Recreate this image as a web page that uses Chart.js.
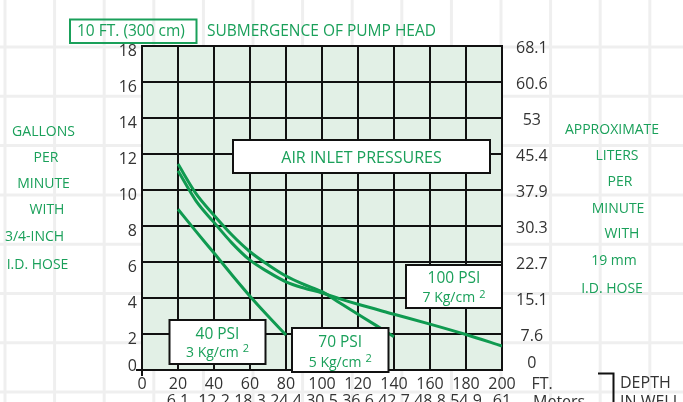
<!DOCTYPE html>
<html><head><meta charset="utf-8">
<script src="https://cdn.jsdelivr.net/npm/chart.js@4/dist/chart.umd.min.js"></script>
<style>html,body{margin:0;padding:0;background:#fff;overflow:hidden}canvas{display:block}</style>
</head><body>
<canvas id="c" width="683" height="402"></canvas>
<script>
// ---- data ----
const depthFtTicks = [0, 20, 40, 60, 80, 100, 120, 140, 160, 180, 200];
const depthMeterTicks = ['', '6.1', '12.2', '18.3', '24.4', '30.5', '36.6', '42.7', '48.8', '54.9', '61'];
const gpmTicks = [0, 2, 4, 6, 8, 10, 12, 14, 16, 18];
const lpmTicks = ['0', '7.6', '15.1', '22.7', '30.3', '37.9', '45.4', '53', '60.6', '68.1'];

const depth40 = [20, 30, 40, 50, 60, 70, 80];
const gpm40   = [8.93, 7.7, 6.5, 5.28, 4.1, 3.0, 1.94];
const depth70 = [20, 30, 40, 50, 60, 70, 80, 90, 100, 110, 120, 130, 140];
const gpm70   = [11.44, 9.8, 8.6, 7.5, 6.57, 5.85, 5.22, 4.75, 4.35, 3.72, 3.1, 2.48, 1.85];
const depth100 = [20, 30, 40, 50, 60, 70, 80, 90, 100, 110, 120, 140, 160, 180, 200];
const gpm100   = [11.07, 9.4, 8.2, 7.05, 6.1, 5.45, 4.9, 4.55, 4.28, 3.95, 3.65, 3.1, 2.55, 1.97, 1.33];

const seriesNames = ['40 PSI', '70 PSI', '100 PSI'];
const seriesSub = ['3 Kg/cm', '5 Kg/cm', '7 Kg/cm'];
const leftTitle = ['GALLONS', 'PER', 'MINUTE', 'WITH', '3/4-INCH', 'I.D. HOSE'];
const rightTitle = ['APPROXIMATE', 'LITERS', 'PER', 'MINUTE', 'WITH', '19 mm', 'I.D. HOSE'];
const headerBox = '10 FT. (300 cm)';
const headerText = 'SUBMERGENCE OF PUMP HEAD';
const centerBox = 'AIR INLET PRESSURES';

// ---- styles ----
const FF = "'Open Sans', 'Noto Sans', sans-serif";
const GREEN_LINE = '#0f9a50';
const GREEN_TEXT = '#1aa05a';
const INK = '#111';
const TICK_TXT = '#333';
Chart.defaults.font.family = FF;

const pts = (xs, ys) => xs.map((x, i) => ({x, y: ys[i]}));

function txt(ctx, s, x, y, size, color, align) {
  ctx.font = size + 'px ' + FF;
  ctx.fillStyle = color;
  ctx.textAlign = align || 'center';
  ctx.textBaseline = 'middle';
  ctx.fillText(s, x, y + 1);
}
function rect(ctx, x, y, w, h, stroke, lw, fill) {
  if (fill) { ctx.fillStyle = fill; ctx.fillRect(x, y, w, h); }
  ctx.strokeStyle = stroke; ctx.lineWidth = lw;
  ctx.strokeRect(x, y, w, h);
}
function psiBox(ctx, x, y, w, h, name, sub, nameY, subY) {
  rect(ctx, x, y, w, h, INK, 2, '#fff');
  const cx = x + w / 2;
  txt(ctx, name, cx, nameY, 15.5, GREEN_TEXT);
  ctx.font = '14px ' + FF;
  const w1 = ctx.measureText(sub).width;
  ctx.font = '11px ' + FF;
  const w2 = ctx.measureText('2').width;
  const total = w1 + 4 + w2;
  const sx = cx - total / 2;
  txt(ctx, sub, sx, subY, 14, GREEN_TEXT, 'left');
  txt(ctx, '2', sx + w1 + 4, subY - 4, 11, GREEN_TEXT, 'left');
}

const bgPlugin = {
  id: 'bg',
  beforeDraw(chart) {
    const {ctx, chartArea: a} = chart;
    ctx.save();
    ctx.fillStyle = '#fff';
    ctx.fillRect(0, 0, chart.width, chart.height);
    ctx.strokeStyle = '#efefef';
    ctx.lineWidth = 3;
    for (let x = 5; x < chart.width; x += 49.6) {
      ctx.beginPath(); ctx.moveTo(x, 0); ctx.lineTo(x, chart.height); ctx.stroke();
    }
    for (let y = 47 - 49.3; y < chart.height; y += 49.3) {
      ctx.beginPath(); ctx.moveTo(0, y); ctx.lineTo(chart.width, y); ctx.stroke();
    }
    ctx.fillStyle = '#e2f0e6';
    ctx.fillRect(a.left, a.top, a.right - a.left, a.bottom - a.top);
    ctx.restore();
  }
};

const overlayPlugin = {
  id: 'overlay',
  afterDraw(chart) {
    const ctx = chart.ctx;
    ctx.save();
    // header
    rect(ctx, 70, 19.5, 126.5, 23.5, GREEN_TEXT, 2);
    txt(ctx, headerBox, 77, 31, 15.5, GREEN_TEXT, 'left');
    txt(ctx, headerText, 207, 31, 15.5, GREEN_TEXT, 'left');
    // air inlet box
    rect(ctx, 233, 140, 257, 33, INK, 2, '#fff');
    txt(ctx, centerBox, 361.5, 157, 16, GREEN_TEXT);
    // psi boxes
    psiBox(ctx, 169.5, 320, 96, 44, seriesNames[0], seriesSub[0], 333.5, 352);
    psiBox(ctx, 292, 328, 96.5, 44, seriesNames[1], seriesSub[1], 342, 362);
    psiBox(ctx, 406, 265, 96, 43, seriesNames[2], seriesSub[2], 277.5, 297.5);
    // side titles
    const lx = [43.5, 46, 43.5, 47, 34.5, 37.5];
    const ly = [131, 157, 183, 209, 236, 264];
    leftTitle.forEach((s, i) => txt(ctx, s, lx[i], ly[i], 14, GREEN_TEXT));
    const rx = [612, 617, 620, 618, 622, 614, 612];
    const ry = [129.5, 155, 181, 208, 233, 260, 288];
    rightTitle.forEach((s, i) => txt(ctx, s, rx[i], ry[i], 14, GREEN_TEXT));
    // axis unit labels
    txt(ctx, 'FT.', 531.5, 383, 16, TICK_TXT, 'left');
    txt(ctx, 'Meters', 533, 401, 16, TICK_TXT, 'left');
    txt(ctx, 'DEPTH', 620, 382, 16, TICK_TXT, 'left');
    txt(ctx, 'IN WELL', 620, 401, 16, TICK_TXT, 'left');
    ctx.strokeStyle = INK; ctx.lineWidth = 2;
    ctx.beginPath(); ctx.moveTo(598, 373.5); ctx.lineTo(613.5, 373.5); ctx.lineTo(613.5, 402); ctx.stroke();
    ctx.restore();
  }
};

const zeroTick = (ctx) => (ctx.tick && ctx.tick.value === 0) ? INK : 'rgba(0,0,0,0)';

new Chart(document.getElementById('c'), {
  type: 'line',
  data: {
    datasets: [
      {label: seriesNames[0], data: pts(depth40, gpm40)},
      {label: seriesNames[1], data: pts(depth70, gpm70)},
      {label: seriesNames[2], data: pts(depth100, gpm100)}
    ].map(d => Object.assign(d, {
      borderColor: GREEN_LINE, borderWidth: 3, pointRadius: 0, fill: false,
      cubicInterpolationMode: 'monotone'
    }))
  },
  options: {
    responsive: false,
    animation: false,
    events: [],
    layout: {padding: {top: 46, left: 0, right: 0, bottom: 0}},
    plugins: {legend: {display: false}, tooltip: {enabled: false}},
    scales: {
      x: {
        type: 'linear', min: 0, max: 200,
        afterBuildTicks: s => { s.ticks = depthFtTicks.map(v => ({value: v})); },
        ticks: {
          callback: (v) => { const i = depthFtTicks.indexOf(v); return [String(v), depthMeterTicks[i]]; },
          font: {size: 16, lineHeight: 1.05}, color: TICK_TXT, padding: 0,
          maxRotation: 0, autoSkip: false
        },
        grid: {color: INK, lineWidth: 2, tickLength: 6, tickColor: zeroTick, tickWidth: 2},
        border: {color: INK, width: 2},
        afterFit: s => { s.height = 32; }
      },
      y: {
        type: 'linear', min: 0, max: 18,
        afterBuildTicks: s => { s.ticks = gpmTicks.map(v => ({value: v})); },
        ticks: {
          callback: (v) => v === 0 ? [String(v), ''] : String(v),
          font: {size: 16, lineHeight: 1.05}, color: TICK_TXT, padding: -1, labelOffset: 5,
          autoSkip: false
        },
        grid: {color: INK, lineWidth: 2, tickLength: 6, tickColor: zeroTick, tickWidth: 2},
        border: {color: INK, width: 2},
        afterFit: s => { s.width = 142; }
      },
      y2: {
        type: 'linear', position: 'right', min: 0, max: 18,
        afterBuildTicks: s => { s.ticks = gpmTicks.map(v => ({value: v})); },
        ticks: {
          callback: (v) => { const l = lpmTicks[gpmTicks.indexOf(v)]; return v === 0 ? [l, ''] : l; },
          font: {size: 16, lineHeight: 1.05}, color: TICK_TXT, padding: 14, labelOffset: 2,
          crossAlign: 'center', autoSkip: false
        },
        grid: {display: false, drawTicks: false},
        border: {display: true, color: INK, width: 2},
        afterFit: s => { s.width = 181; }
      }
    }
  },
  plugins: [bgPlugin, overlayPlugin]
});
</script>
</body></html>
